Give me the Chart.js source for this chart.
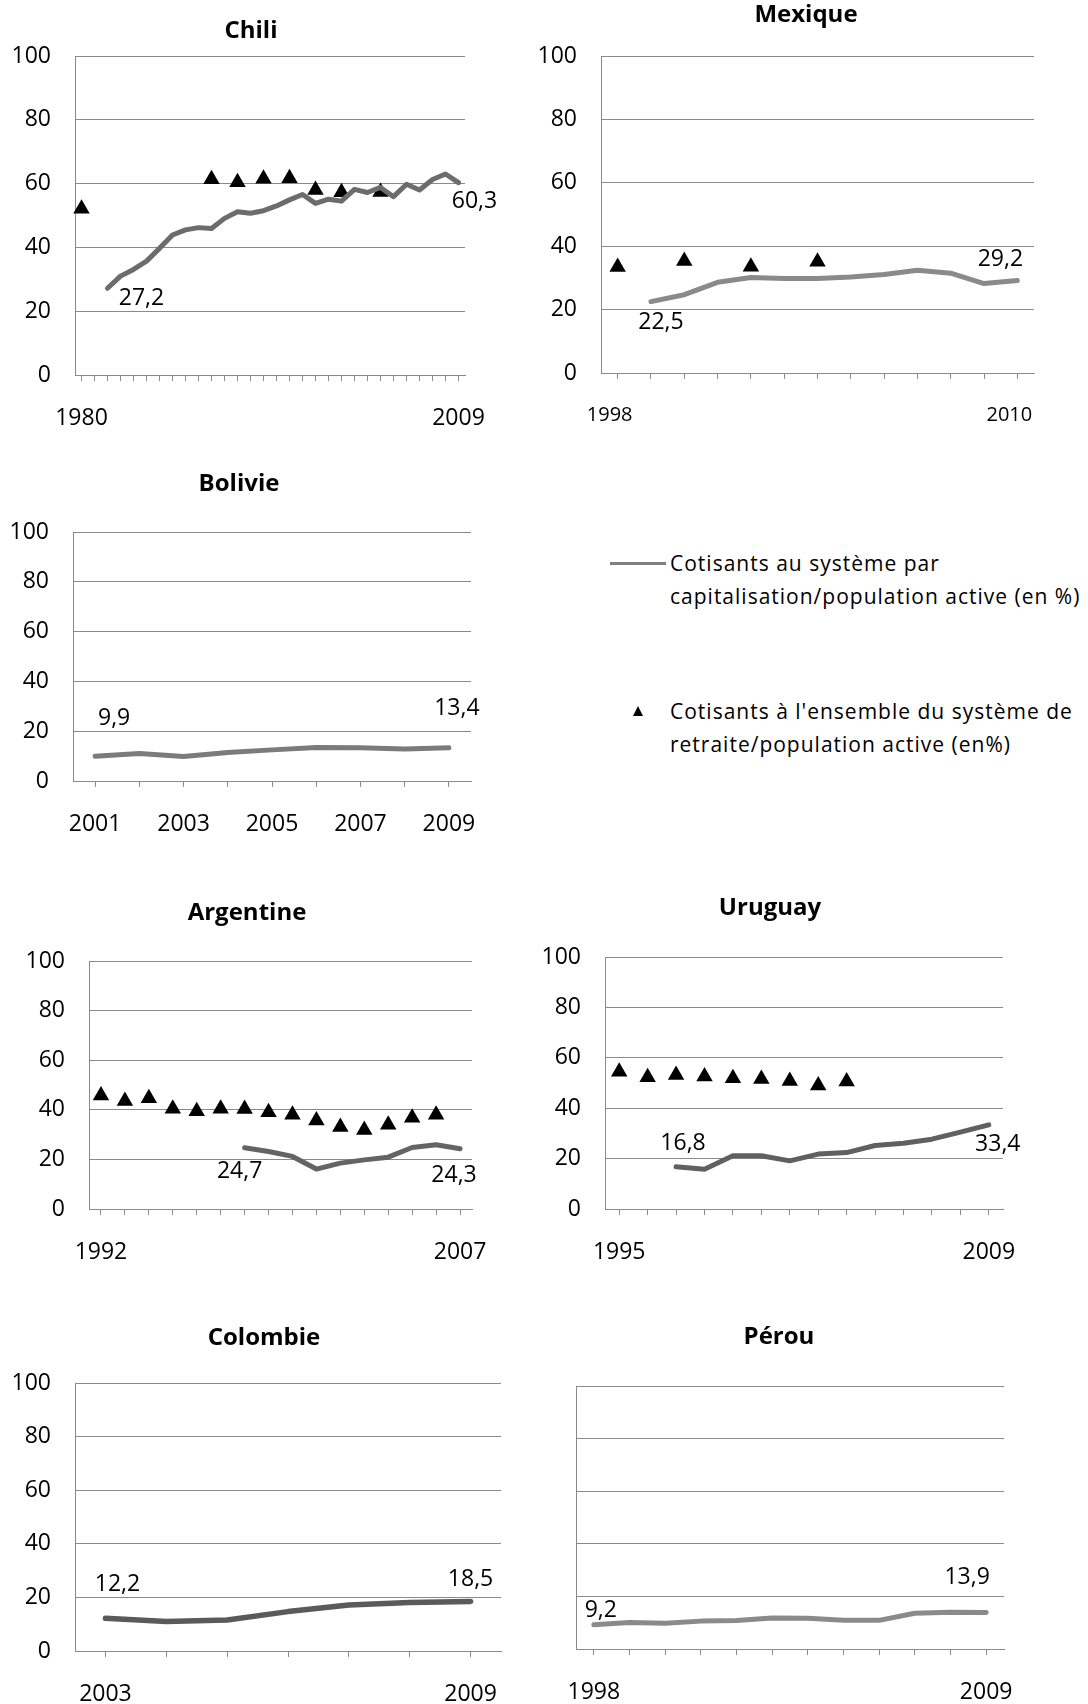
<!DOCTYPE html>
<html>
<head>
<meta charset="utf-8">
<script src="https://cdn.jsdelivr.net/npm/chart.js@4.4.1/dist/chart.umd.min.js"></script>
<style>
  body { margin: 0; background: #fff; width: 1088px; height: 1704px; position: relative; overflow: hidden; font-family: "Open Sans", sans-serif; }
  canvas { position: absolute; }
  .title { position: absolute; font: bold 24px "Open Sans"; transform: translate(-50%, -50%); white-space: nowrap; color: #000; }
  .leg { position: absolute; font-size: 21px; letter-spacing: 1px; white-space: nowrap; transform: translateY(-50%); color: #000; }
  .legline { position: absolute; height: 3px; background: #808080; }
  .legtri { position: absolute; width: 0; height: 0; border-left: 5px solid transparent; border-right: 5px solid transparent; border-bottom: 10px solid #000; }
</style>
</head>
<body>
<div class="legline" style="left:610px; top:562px; width:56px;"></div>
<div class="leg" style="left:670px; top:563px;">Cotisants au système par</div>
<div class="leg" style="left:670px; top:596px;">capitalisation/population active (en %)</div>
<div class="legtri" style="left:633px; top:706px;"></div>
<div class="leg" style="left:670px; top:711px;">Cotisants à l'ensemble du système de</div>
<div class="leg" style="left:670px; top:744px;">retraite/population active (en%)</div>

<script>
// Chili
const chiliYears = ['1980','1981','1982','1983','1984','1985','1986','1987','1988','1989',
  '1990','1991','1992','1993','1994','1995','1996','1997','1998','1999',
  '2000','2001','2002','2003','2004','2005','2006','2007','2008','2009'];
const chiliCapital = [null, null, 27.2, 31.0, 33.1, 35.7, 39.7, 43.9, 45.5, 46.2,
  45.9, 49.1, 51.2, 50.7, 51.5, 53.0, 54.9, 56.6, 53.8, 55.1,
  54.5, 58.2, 57.2, 58.8, 55.9, 59.8, 58.0, 61.3, 63.0, 60.3];
const chiliTotal = [52.1, null, null, null, null, null, null, null, null, null,
  61.4, null, 60.4, null, 61.5, null, 61.7, null, 58.0, null,
  57.3, null, null, 57.4, null, null, null, null, null, null];
const chiliTicks = ['1980', '2009'];

// Mexique
const mexYears = ['1998','1999','2000','2001','2002','2003','2004','2005','2006','2007','2008','2009','2010'];
const mexCapital = [null, 22.5, 24.7, 28.6, 30.1, 29.8, 29.8, 30.3, 31.1, 32.4, 31.5, 28.2, 29.2];
const mexTotal = [33.4, null, 35.3, null, 33.5, null, 35.1, null, null, null, null, null, null];
const mexTicks = ['1998', '2010'];

// Bolivie
const bolYears = ['2001','2002','2003','2004','2005','2006','2007','2008','2009'];
const bolCapital = [9.9, 11.0, 9.8, 11.4, 12.5, 13.5, 13.4, 12.9, 13.4];
const bolTicks = ['2001', '2003', '2005', '2007', '2009'];

// Argentine
const argYears = ['1992','1993','1994','1995','1996','1997','1998','1999','2000','2001',
  '2002','2003','2004','2005','2006','2007'];
const argCapital = [null, null, null, null, null, null, 24.7, 23.2, 21.2, 16.1,
  18.5, 19.8, 20.9, 24.8, 25.9, 24.3];
const argTotal = [45.8, 43.5, 44.7, 40.4, 39.4, 40.4, 40.3, 39.0, 38.0, 35.7,
  33.1, 31.9, 34.0, 36.8, 38.0, null];
const argTicks = ['1992', '2007'];

// Uruguay
const uruYears = ['1995','1996','1997','1998','1999','2000','2001','2003','2004','2005',
  '2006','2007','2008','2009'];
const uruCapital = [null, null, 16.8, 15.8, 21.1, 21.1, 19.1, 21.8, 22.4, 25.2,
  26.1, 27.7, 30.5, 33.4];
const uruTotal = [54.5, 52.3, 53.2, 52.6, 51.9, 51.6, 50.8, 49.0, 50.6, null,
  null, null, null, null];
const uruTicks = ['1995', '2009'];

// Colombie
const colYears = ['2003','2004','2005','2006','2007','2008','2009'];
const colCapital = [12.2, 11.0, 11.6, 14.7, 17.2, 18.1, 18.5];
const colTicks = ['2003', '2009'];

// Pérou
const perYears = ['1998','1999','2000','2001','2002','2003','2004','2005','2006','2007','2008','2009'];
const perCapital = [9.2, 10.1, 9.8, 10.6, 10.8, 11.8, 11.7, 10.9, 10.9, 13.6, 14.0, 13.9];
const perTicks = ['1998', '2009'];

const GRID = '#8a8a8a';
const FONT = '"Open Sans"';
const PT = 50, YW = 90, PR = 60, XH = 64, PB = 10;

function fmt(v) {
  return v.toFixed(1).replace('.', ',');
}

function makeChart(c) {
  const [l, t, r, b] = c.box;
  const canvas = document.createElement('canvas');
  canvas.width = (r - l) + YW + PR;
  canvas.height = (b - t) + PT + XH + PB;
  canvas.style.left = (l - YW) + 'px';
  canvas.style.top = (t - PT) + 'px';
  document.body.appendChild(canvas);

  const title = document.createElement('div');
  title.className = 'title';
  title.textContent = c.title;
  title.style.left = c.titleAt[0] + 'px';
  title.style.top = c.titleAt[1] + 'px';
  document.body.appendChild(title);

  // value labels on the first and last point of the line
  const endLabels = {
    id: 'endLabels',
    afterDatasetsDraw(chart) {
      const meta = chart.getDatasetMeta(0);
      const data = chart.data.datasets[0].data;
      const ctx = chart.ctx;
      ctx.save();
      ctx.font = '23px ' + FONT;
      ctx.fillStyle = '#000';
      ctx.textAlign = 'center';
      ctx.textBaseline = 'middle';
      c.valueLabels.forEach(it => {
        const el = meta.data[it.i];
        ctx.fillText(fmt(data[it.i]), el.x + it.dx, el.y + it.dy);
      });
      ctx.restore();
    }
  };

  const datasets = [{
    data: c.capital,
    borderColor: c.color,
    borderWidth: c.lineWidth || 5,
    borderJoinStyle: 'round',
    borderCapStyle: 'round',
    pointRadius: 0,
    tension: 0,
    spanGaps: false
  }];
  if (c.total) {
    datasets.push({
      data: c.total,
      showLine: false,
      pointStyle: 'triangle',
      pointRadius: 9.5,
      pointBackgroundColor: '#000',
      pointBorderColor: '#000',
      pointBorderWidth: 0
    });
  }

  new Chart(canvas, {
    type: 'line',
    data: { labels: c.labels, datasets },
    options: {
      responsive: false,
      animation: false,
      events: [],
      layout: { padding: { left: 0, top: PT, right: PR, bottom: PB } },
      plugins: { legend: { display: false }, tooltip: { enabled: false } },
      scales: {
        x: {
          type: 'category',
          offset: true,
          grid: { drawOnChartArea: false, drawTicks: true, tickLength: 6, color: GRID, lineWidth: 1 },
          border: { color: GRID, width: 1 },
          ticks: {
            autoSkip: false, maxRotation: 0, padding: 24, color: '#000',
            labelOffset: c.xShift || 0,
            font: { family: FONT, size: c.xFont || 23 },
            callback(v) {
              const lab = this.getLabelForValue(v);
              return c.shown.includes(lab) ? lab : '';
            }
          },
          afterFit(s) { s.height = XH; }
        },
        y: {
          min: 0, max: 100,
          ticks: { stepSize: 20, padding: 24, color: '#000', display: c.yLabels !== false,
            font: { family: FONT, size: 23 } },
          grid: { color: GRID, lineWidth: 1, drawTicks: false },
          border: { color: GRID, width: 1 },
          afterFit(s) { s.width = YW; }
        }
      }
    },
    plugins: [endLabels]
  });
}

makeChart({ title: 'Chili', titleAt: [251, 28], box: [75, 56, 465, 375],
  labels: chiliYears, capital: chiliCapital, total: chiliTotal, shown: chiliTicks,
  color: '#6c6c6c', valueLabels: [{ i: 2, dx: 34, dy: 10 }, { i: 29, dx: 16, dy: 19 }] });

makeChart({ title: 'Mexique', titleAt: [806, 12], box: [601, 56, 1034, 373],
  labels: mexYears, capital: mexCapital, total: mexTotal, shown: mexTicks, xFont: 20, xShift: -8,
  color: '#8a8a8a', valueLabels: [{ i: 1, dx: 10, dy: 21 }, { i: 12, dx: -17, dy: -21 }] });

makeChart({ title: 'Bolivie', titleAt: [239, 481], box: [73, 532, 471, 781],
  labels: bolYears, capital: bolCapital, shown: bolTicks,
  color: '#7b7b7b', valueLabels: [{ i: 0, dx: 19, dy: -38 }, { i: 8, dx: 8, dy: -39 }] });

makeChart({ title: 'Argentine', titleAt: [247, 910], box: [89, 961, 472, 1209],
  labels: argYears, capital: argCapital, total: argTotal, shown: argTicks,
  color: '#646464', valueLabels: [{ i: 6, dx: -5, dy: 24 }, { i: 15, dx: -6, dy: 27 }] });

makeChart({ title: 'Uruguay', titleAt: [770, 905], box: [605, 957, 1003, 1209],
  labels: uruYears, capital: uruCapital, total: uruTotal, shown: uruTicks,
  color: '#606060', valueLabels: [{ i: 2, dx: 7, dy: -23 }, { i: 13, dx: 9, dy: 20 }] });

makeChart({ title: 'Colombie', titleAt: [264, 1335], box: [75, 1383, 501, 1651],
  labels: colYears, capital: colCapital, shown: colTicks, lineWidth: 5.5,
  color: '#5a5a5a', valueLabels: [{ i: 0, dx: 12, dy: -34 }, { i: 6, dx: 0, dy: -22 }] });

makeChart({ title: 'Pérou', titleAt: [779, 1334], box: [576, 1386, 1004, 1649],
  labels: perYears, capital: perCapital, shown: perTicks, yLabels: false,
  color: '#8a8a8a', valueLabels: [{ i: 0, dx: 7, dy: -14 }, { i: 11, dx: -19, dy: -35 }] });
</script>
</body>
</html>
